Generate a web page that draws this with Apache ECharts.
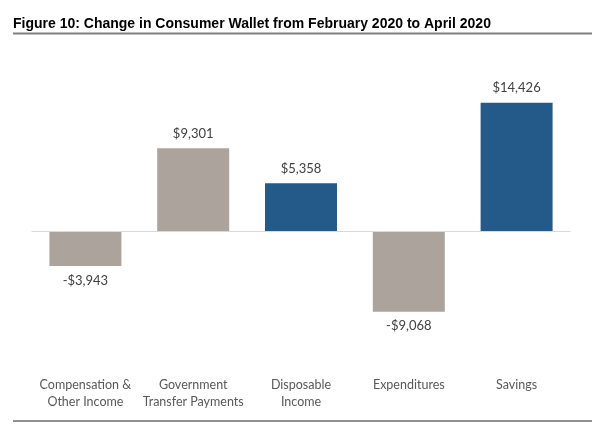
<!DOCTYPE html>
<html><head><meta charset="utf-8">
<script src="https://cdn.jsdelivr.net/npm/echarts@6/dist/echarts.min.js"></script>
<style>html,body{margin:0;padding:0;background:#fff}#c{width:600px;height:428px}</style>
</head><body><div id="c"></div>
<script>
const categories = ['Compensation &\nOther Income', 'Government\nTransfer Payments', 'Disposable\nIncome', 'Expenditures', 'Savings'];
const values = [-3943, 9301, 5358, -9068, 14426];
const barColors = ['#ABA39C', '#ABA39C', '#245A8A', '#ABA39C', '#245A8A'];
const titleText = 'Figure 10: Change in Consumer Wallet from February 2020 to April 2020';

function fmt(v) {
  const s = '$' + Math.abs(v).toLocaleString('en-US');
  return v < 0 ? '-' + s : s;
}

const chart = echarts.init(document.getElementById('c'));
chart.setOption({
  animation: false,
  grid: { left: 31.5, right: 29.5, top: 88.7, height: 266.8 },
  xAxis: {
    type: 'category', data: categories,
    axisLine: { show: false }, axisTick: { show: false },
    axisLabel: { interval: 0, color: '#595959', fontFamily: 'Lato', fontSize: 12.5, lineHeight: 17, margin: 21 }
  },
  yAxis: { type: 'value', min: -14000, max: 16000, show: false, splitLine: { show: false } },
  series: [{
    type: 'bar', barWidth: 72,
    data: values.map((v, i) => ({
      value: v,
      itemStyle: { color: barColors[i] },
      label: { position: v < 0 ? 'bottom' : 'top' }
    })),
    label: {
      show: true, distance: 8, color: '#404040', fontFamily: 'Lato', fontSize: 13,
      formatter: p => fmt(p.value)
    },
    markLine: {
      silent: true, symbol: 'none', label: { show: false },
      lineStyle: { color: '#D9D9D9', type: 'solid', width: 1 },
      data: [{ yAxis: 0 }]
    }
  }],
  graphic: [
    { type: 'text', left: 13, top: 17, style: { text: titleText, font: 'bold 14px "Liberation Sans", Arial', fill: '#000' } },
    { type: 'rect', shape: { x: 13, y: 32.5, width: 579, height: 2 }, style: { fill: '#808080' } },
    { type: 'rect', shape: { x: 13, y: 420.5, width: 579, height: 1 }, style: { fill: '#222' } }
  ]
});
</script></body></html>
